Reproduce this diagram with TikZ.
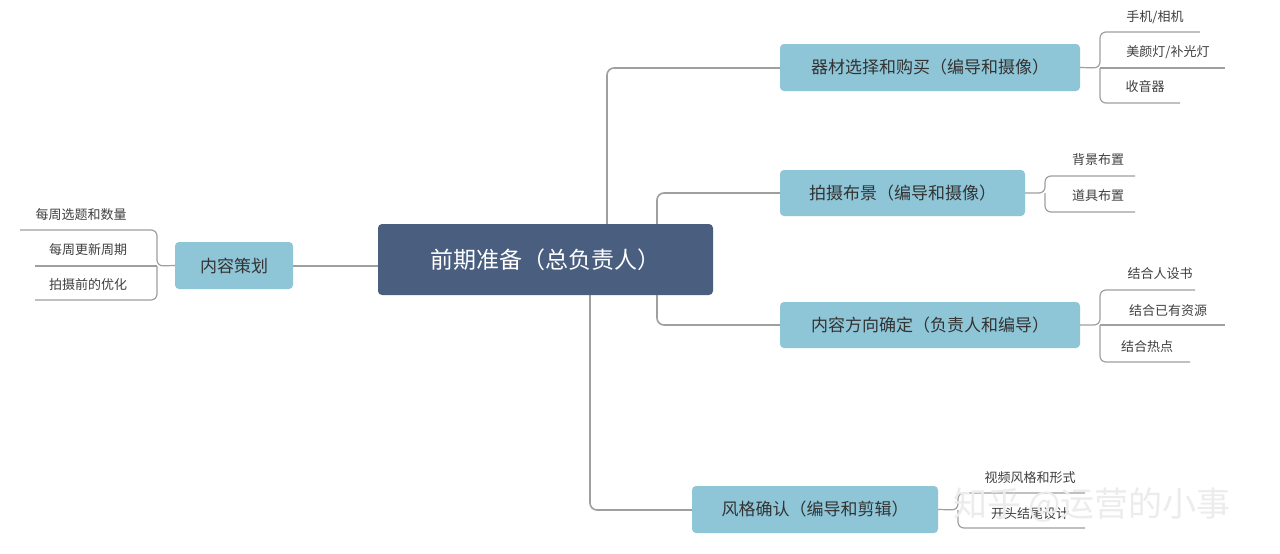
\documentclass[tikz,border=0pt]{standalone}
\usepackage{fontspec}
\newfontfamily\cjk{Noto Sans CJK SC}
\begin{document}
\begin{tikzpicture}[x=1pt,y=-1pt,
  conn/.style={draw=gray!75,line width=1.6pt,rounded corners=7pt},
  sub/.style={draw=gray!75,line width=1.2pt,rounded corners=6pt},
  topic/.style={fill=topicblue,rounded corners=4pt,font=\cjk\fontsize{17}{20}\selectfont,text=black!80,inner sep=0pt},
  leaf/.style={font=\cjk\fontsize{13}{15}\selectfont,text=black!75,inner sep=0pt}]
\definecolor{topicblue}{HTML}{8EC5D7}
\definecolor{rootblue}{HTML}{4A5E80}
\useasboundingbox (0,0) rectangle (1280,554);
\fill[white] (0,0) rectangle (1280,554);
% trunk lines
\draw[conn] (607,224) |- (780,68);
\draw[conn] (590,295) |- (692,510);
\draw[conn] (780,193) -| (657,250) |- (780,325);
\draw[conn] (378,266) -- (293,266);
% nodes
\node[fill=rootblue,rounded corners=4pt,minimum width=335pt,minimum height=71pt,font=\cjk\fontsize{23}{26}\selectfont,text=white] (root) at (545.5,259.5) {前期准备（总负责人）};
\node[topic,minimum width=118pt,minimum height=47pt] (nr) at (234,265.5) {内容策划};
\node[topic,minimum width=300pt,minimum height=47pt] (qc) at (930,67.5) {器材选择和购买（编导和摄像）};
\node[topic,minimum width=245pt,minimum height=46pt] (ps) at (902.5,193) {拍摄布景（编导和摄像）};
\node[topic,minimum width=300pt,minimum height=46pt] (nf) at (930,325) {内容方向确定（负责人和编导）};
\node[topic,minimum width=246pt,minimum height=47pt] (fg) at (815,509.5) {风格确认（编导和剪辑）};
% left leaves
\node[leaf] (l1) at (81,215) {每周选题和数量};
\node[leaf] (l2) at (88,250) {每周更新周期};
\node[leaf] (l3) at (88,285) {拍摄前的优化};
\draw[sub] (nr.west) -- (157,266) |- (20,230);
\draw[sub] (157,266) |- (35,300);
\draw[sub] (157,266) -- (35,266);
% qc leaves
\node[leaf] (a1) at (1155,17) {手机/相机};
\node[leaf] (a2) at (1168,52) {美颜灯/补光灯};
\node[leaf] (a3) at (1145,87) {收音器};
\draw[sub] (qc.east) -- (1100,68) |- (1200,32);
\draw[sub] (1100,68) |- (1180,103);
\draw[sub] (1100,68) -- (1225,68);
% ps leaves
\node[leaf] (b1) at (1098,160) {背景布置};
\node[leaf] (b2) at (1098,196) {道具布置};
\draw[sub] (ps.east) -- (1045,193) |- (1135,176);
\draw[sub] (1045,193) |- (1135,212);
% nf leaves
\node[leaf] (c1) at (1160,274) {结合人设书};
\node[leaf] (c2) at (1168,311) {结合已有资源};
\node[leaf] (c3) at (1147,347) {结合热点};
\draw[sub] (nf.east) -- (1100,325) |- (1195,290);
\draw[sub] (1100,325) |- (1190,362);
\draw[sub] (1100,325) -- (1225,325);
% fg leaves
\node[leaf] (d1) at (1030,478) {视频风格和形式};
\node[leaf] (d2) at (1030,514) {开头结尾设计};
\draw[sub] (fg.east) -- (958,510) |- (1085,493);
\draw[sub] (958,510) |- (1085,528);
% watermark
\node[font=\cjk\fontsize{34}{38}\selectfont,text=gray!15] (wm) at (1092,505) {知乎 @运营的小事};
\end{tikzpicture}
\end{document}
